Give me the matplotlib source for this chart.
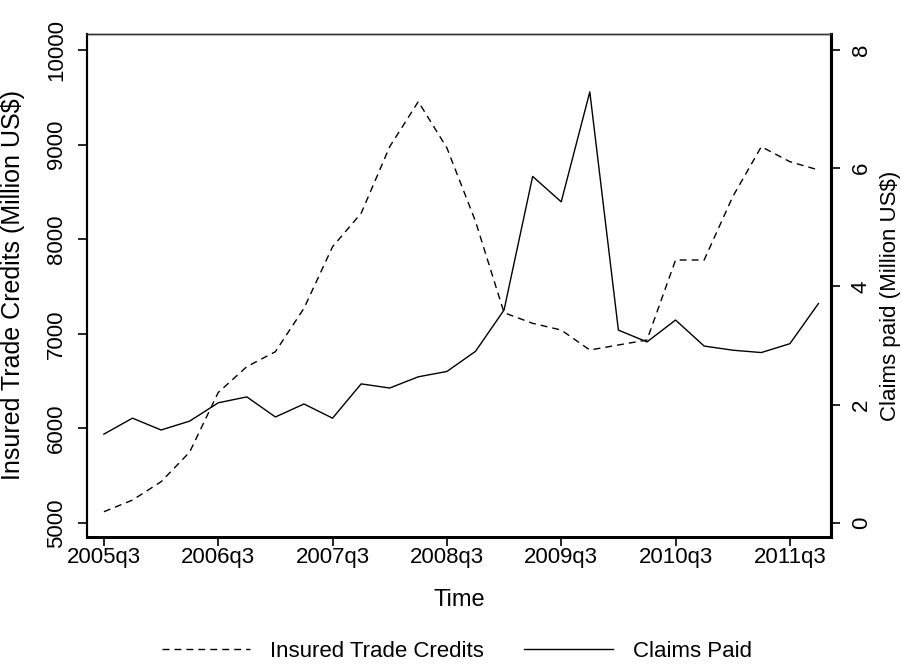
import matplotlib
matplotlib.use("Agg")
import matplotlib.pyplot as plt

plt.rcParams['font.family'] = ['Liberation Sans', 'DejaVu Sans']

# quarterly data, 2005q3 .. 2011q4
quarters = ['2005q3', '2005q4', '2006q1', '2006q2', '2006q3', '2006q4',
            '2007q1', '2007q2', '2007q3', '2007q4', '2008q1', '2008q2',
            '2008q3', '2008q4', '2009q1', '2009q2', '2009q3', '2009q4',
            '2010q1', '2010q2', '2010q3', '2010q4', '2011q1', '2011q2',
            '2011q3', '2011q4']
credits = [5120, 5243, 5437, 5750, 6380, 6653, 6811, 7270, 7921, 8274,
           8978, 9454, 8965, 8190, 7223, 7111, 7040, 6829, 6882, 6935,
           7780, 7780, 8449, 8978, 8819, 8732]
claims = [1.50, 1.77, 1.57, 1.72, 2.03, 2.13, 1.79, 2.01, 1.77, 2.35,
          2.28, 2.47, 2.56, 2.90, 3.60, 5.86, 5.43, 7.29, 3.26, 3.06,
          3.43, 2.99, 2.92, 2.88, 3.03, 3.71]
left_ticks = [5000, 6000, 7000, 8000, 9000, 10000]
right_ticks = [0, 2, 4, 6, 8]

x = list(range(len(quarters)))

fig = plt.figure(figsize=(9.03, 6.66), dpi=100)
ax = fig.add_axes([0.0967, 0.194, 0.8233, 0.755])
ax2 = ax.twinx()

l1, = ax.plot(x, credits, color='black', lw=1.0, linestyle=(0, (5, 3.6)),
              label='Insured Trade Credits')
l2, = ax2.plot(x, claims, color='black', lw=1.0, label='Claims Paid')

ax.set_xlim(-0.58, 25.43)
ax.set_ylim(4855, 10169)
ax2.set_ylim(-0.237, 8.27)

ax.set_xticks(x[::4])
ax.set_xticklabels(quarters[::4])
ax.set_yticks(left_ticks)
ax2.set_yticks(right_ticks)

ax.tick_params(axis='x', length=6.5, width=1.2, pad=1, labelsize=16)
ax.tick_params(axis='y', length=6.5, width=1.2, pad=8, labelsize=16,
               labelrotation=90)
ax2.tick_params(axis='y', length=6.5, width=1.2, pad=8, labelsize=16,
                labelrotation=90)
for t in ax.get_yticklabels() + ax2.get_yticklabels():
    t.set_va('center')

ax.set_xlabel('Time', fontsize=17)
ax.xaxis.set_label_coords(0.5, -0.103)
ax.set_ylabel('Insured Trade Credits (Million US$)', fontsize=18)
ax.yaxis.set_label_coords(-0.084, 0.5)
ax2.set_ylabel('Claims paid (Million US$)', fontsize=16)
ax2.yaxis.set_label_coords(1.066, 0.48)

for a in (ax, ax2):
    a.spines['left'].set_linewidth(1.5)
    a.spines['bottom'].set_linewidth(2.0)
    a.spines['right'].set_linewidth(2.2)
    a.spines['top'].set_linewidth(1.0)
    a.spines['top'].set_color('#333333')

fig.legend(handles=[l1, l2], loc='center', bbox_to_anchor=(0.506, 0.022),
           ncol=2, frameon=False, fontsize=16, handlelength=4.0,
           handletextpad=0.9, columnspacing=1.8, borderpad=0)

fig.savefig('out.png', dpi=100, facecolor='white')
